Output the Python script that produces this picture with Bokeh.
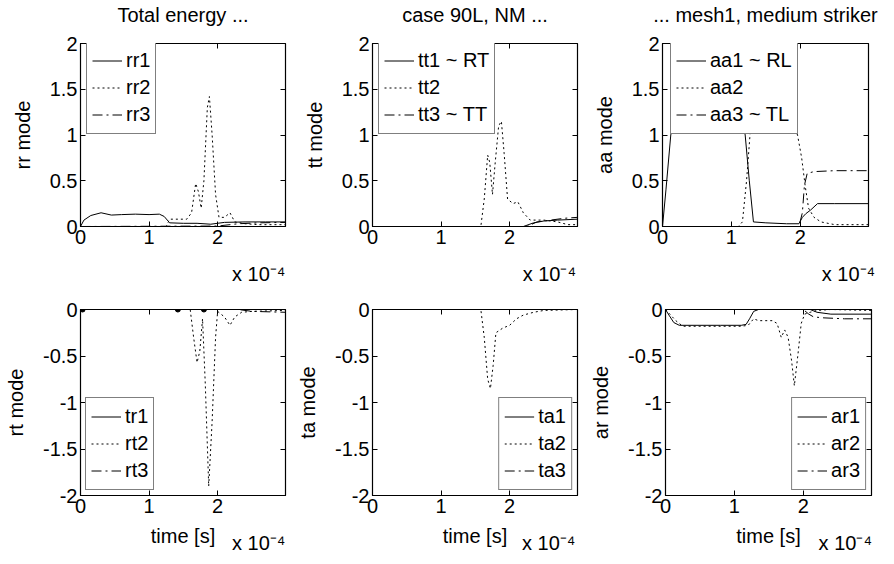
from bokeh.plotting import figure
from bokeh.layouts import column, row
from bokeh.models import (LinearAxis, Range1d, Legend, LegendItem,
                          FixedTicker, NumeralTickFormatter)
from bokeh.embed import file_html
from bokeh.resources import INLINE

# ---------------- data (time in units of 1e-4 s) ----------------
rr1_t = [0, 0.05, 0.15, 0.3, 0.45, 0.6, 0.8, 1.0, 1.15, 1.22, 1.3, 1.5, 1.7, 1.9, 2.1, 2.4, 2.7, 2.99]
rr1_y = [0, 0.07, 0.12, 0.15, 0.125, 0.13, 0.135, 0.13, 0.135, 0.11, 0.04, 0.035, 0.035, 0.025, 0.045, 0.05, 0.05, 0.05]
rr2_t = [0, 1.25, 1.3, 1.55, 1.62, 1.68, 1.72, 1.76, 1.8, 1.85, 1.88, 1.92, 1.97, 2.02, 2.1, 2.18, 2.25, 2.4, 2.6, 2.99]
rr2_y = [0, 0, 0.08, 0.08, 0.15, 0.47, 0.38, 0.2, 0.5, 1.3, 1.42, 1.0, 0.35, 0.1, 0.1, 0.15, 0.05, 0.03, 0.02, 0.02]
rr3_t = [0, 2.0, 2.3, 2.6, 2.99]
rr3_y = [0, 0.005, 0.03, 0.04, 0.045]

tt1_t = [0, 2.2, 2.35, 2.5, 2.7, 2.99]
tt1_y = [0, 0, 0.04, 0.06, 0.07, 0.08]
tt2_t = [0, 1.58, 1.63, 1.68, 1.71, 1.75, 1.79, 1.84, 1.88, 1.92, 1.97, 2.05, 2.12, 2.2, 2.3, 2.5, 2.7, 2.85, 2.99]
tt2_y = [0, 0, 0.3, 0.78, 0.7, 0.35, 0.7, 1.1, 1.15, 0.8, 0.3, 0.25, 0.27, 0.15, 0.07, 0.07, 0.05, 0.02, 0.02]
tt3_t = [0, 2.25, 2.4, 2.6, 2.8, 2.99]
tt3_y = [0, 0, 0.05, 0.07, 0.09, 0.1]

aa1_t = [0, 0.05, 0.12, 0.18, 1.15, 1.2, 1.26, 1.32, 1.5, 1.8, 1.98, 2.03, 2.08, 2.15, 2.25, 2.5, 2.99]
aa1_y = [0, 0.4, 1.0, 1.2, 1.2, 1.0, 0.5, 0.05, 0.04, 0.03, 0.03, 0.1, 0.14, 0.18, 0.25, 0.25, 0.25]
aa2_t = [0, 1.1, 1.16, 1.22, 1.28, 1.9, 1.96, 2.02, 2.07, 2.12, 2.2, 2.3, 2.5, 2.99]
aa2_y = [0, 0, 0.05, 0.5, 1.1, 1.1, 1.0, 0.75, 0.45, 0.2, 0.1, 0.05, 0.02, 0.02]
aa3_t = [0, 1.98, 2.03, 2.06, 2.1, 2.2, 2.5, 2.99]
aa3_y = [0, 0, 0.15, 0.45, 0.58, 0.6, 0.61, 0.61]

tr1_t = [0, 2.99]
tr1_y = [0, 0]
tr1_mark_t = [0.03, 1.42, 1.8]
tr1_mark_y = [0, 0, 0]
rt2_t = [0, 1.6, 1.65, 1.7, 1.74, 1.78, 1.82, 1.87, 1.92, 1.97, 2.0, 2.1, 2.18, 2.25, 2.35, 2.5, 2.99]
rt2_y = [0, 0, -0.3, -0.57, -0.45, -0.1, -0.8, -1.9, -1.2, -0.3, -0.02, -0.08, -0.17, -0.08, -0.03, -0.02, -0.01]
rt3_t = [0, 2.3, 2.5, 2.99]
rt3_y = [0, 0, -0.02, -0.03]

ta1_t = [0, 2.99]
ta1_y = [0, 0]
ta2_t = [0, 1.58, 1.63, 1.68, 1.72, 1.76, 1.8, 1.9, 2.0, 2.1, 2.2, 2.35, 2.5, 2.99]
ta2_y = [0, 0, -0.3, -0.75, -0.85, -0.6, -0.25, -0.2, -0.17, -0.1, -0.06, -0.03, -0.01, 0]
ta3_t = [0, 2.99]
ta3_y = [0, 0]

ar1_t = [0, 0.05, 0.12, 0.2, 0.5, 0.8, 1.1, 1.17, 1.22, 1.28, 1.35, 1.8, 2.1, 2.2, 2.4, 2.99]
ar1_y = [0, -0.06, -0.14, -0.17, -0.17, -0.17, -0.17, -0.16, -0.1, -0.02, 0, 0, 0, -0.03, -0.05, -0.05]
ar2_t = [0, 0.15, 0.25, 0.5, 0.8, 1.1, 1.2, 1.28, 1.35, 1.55, 1.62, 1.68, 1.73, 1.78, 1.83, 1.87, 1.92, 1.97, 2.02, 2.1, 2.2, 2.4, 2.99]
ar2_y = [0, -0.12, -0.18, -0.18, -0.18, -0.18, -0.17, -0.1, -0.12, -0.12, -0.15, -0.3, -0.22, -0.3, -0.55, -0.82, -0.5, -0.15, -0.05, -0.03, -0.01, 0, -0.01]
ar3_t = [0, 2.0, 2.08, 2.15, 2.3, 2.6, 2.99]
ar3_y = [0, 0, -0.05, -0.08, -0.09, -0.1, -0.1]

x_ticks = [0, 1, 2]
y_ticks_top = [0, 0.5, 1, 1.5, 2]
y_ticks_bottom = [-2, -1.5, -1, -0.5, 0]
titles = ["Total energy ...", "case 90L, NM ...", "... mesh1, medium striker"]
x_exponent = "x 10\u207b\u2074"
x_label = "time [s]"
# where the exponent note sits along each time axis (units of 1e-4 s)
exp_pos = [[2.6, 2.58, 2.7], [2.6, 2.57, 2.61]]

# ---------------- styling ----------------
FONT = "Liberation Sans"
FS = "20px"
DASHES = ["solid", "2 3", "10 4 2 4"]

COL_LEFT = [80, 82, 75]
COL_FRAME = [205, 205, 206]
COL_RIGHT = [5, 10, 26]
ROW_TOP = [43, 15]
ROW_FRAME = [183, 186]
ROW_BOTTOM = [68, 69]
EXP_STANDOFF = [16, -18]
TITLE_STANDOFF = 18


def style_axis(ax, ticks, labels=True):
    ax.ticker = FixedTicker(ticks=ticks)
    ax.minor_tick_line_color = None
    ax.major_tick_in = 5
    ax.major_tick_out = 0
    ax.major_tick_line_color = "black"
    ax.axis_line_color = "black"
    ax.axis_label_text_font = FONT
    ax.axis_label_text_font_size = FS
    ax.axis_label_text_font_style = "normal"
    ax.axis_label_text_color = "black"
    if labels:
        ax.formatter = NumeralTickFormatter(format="0.[0]")
        ax.major_label_text_font = FONT
        ax.major_label_text_font_size = FS
        ax.major_label_text_color = "black"
        ax.major_label_standoff = 3
        ax.axis_label_standoff = 13
    else:
        ax.major_label_text_font_size = "0px"
        ax.major_label_text_alpha = 0
        ax.major_label_standoff = 0
        ax.axis_line_color = None


def panel(ci, ri, series, labels, ylabel, yr, yticks, legend_loc, title=None, marks=None):
    p = figure(frame_width=COL_FRAME[ci], frame_height=ROW_FRAME[ri],
               min_border_left=COL_LEFT[ci], min_border_right=COL_RIGHT[ci],
               min_border_top=ROW_TOP[ri], min_border_bottom=ROW_BOTTOM[ri],
               x_range=Range1d(0, 2.99), y_range=Range1d(*yr),
               output_backend="svg", toolbar_location=None,
               background_fill_color="white", border_fill_color="white")
    p.grid.visible = False
    p.outline_line_color = "black"
    p.outline_line_width = 1.2
    xa = p.xaxis[0]
    ya = p.yaxis[0]
    style_axis(xa, x_ticks)
    style_axis(ya, yticks)
    ya.axis_label = ylabel

    ra = LinearAxis()
    style_axis(ra, yticks, labels=False)
    p.add_layout(ra, "right")
    ta = LinearAxis()
    style_axis(ta, x_ticks, labels=False)
    p.add_layout(ta, "above")

    if title:
        # panel heading, centred over the frame
        ta.axis_label = title
        ta.axis_label_standoff = TITLE_STANDOFF

    if ri == 1:
        xa.axis_label = x_label
        xa.axis_label_standoff = 9

    # exponent note "x 10^-4" as a label-only axis under the time axis
    pos = exp_pos[ri][ci]
    ea = LinearAxis(ticker=FixedTicker(ticks=[pos]),
                    major_label_overrides={pos: x_exponent},
                    major_tick_in=0, major_tick_out=0,
                    minor_tick_line_color=None, axis_line_color=None,
                    major_tick_line_color=None,
                    major_label_standoff=EXP_STANDOFF[ri],
                    major_label_text_font=FONT, major_label_text_font_size=FS,
                    major_label_text_color="black")
    p.add_layout(ea, "below")

    items = []
    for (t, y), lab, dash in zip(series, labels, DASHES):
        r = p.line(t, y, line_color="black", line_width=1, line_dash=dash)
        items.append(LegendItem(label=lab, renderers=[r]))
    if marks is not None:
        p.scatter(marks[0], marks[1], size=5, color="black")
    leg = Legend(items=items, location=legend_loc,
                 border_line_color="black", border_line_width=1.2,
                 background_fill_color="white", background_fill_alpha=1,
                 label_text_font=FONT, label_text_font_size=FS, label_text_color="black",
                 glyph_width=30, glyph_height=27, label_height=27,
                 spacing=0, padding=5, margin=5, label_standoff=4)
    p.add_layout(leg)
    return p


top_leg = (6, ROW_FRAME[0] - 91)
p1 = panel(0, 0, [(rr1_t, rr1_y), (rr2_t, rr2_y), (rr3_t, rr3_y)],
           ["rr1", "rr2", "rr3"], "rr mode", (0, 2), y_ticks_top, top_leg, title=titles[0])
p2 = panel(1, 0, [(tt1_t, tt1_y), (tt2_t, tt2_y), (tt3_t, tt3_y)],
           ["tt1 ~ RT", "tt2", "tt3 ~ TT"], "tt mode", (0, 2), y_ticks_top, top_leg, title=titles[1])
p3 = panel(2, 0, [(aa1_t, aa1_y), (aa2_t, aa2_y), (aa3_t, aa3_y)],
           ["aa1 ~ RL", "aa2", "aa3 ~ TL"], "aa mode", (0, 2), y_ticks_top, (8, ROW_FRAME[0] - 91), title=titles[2])
p4 = panel(0, 1, [(tr1_t, tr1_y), (rt2_t, rt2_y), (rt3_t, rt3_y)],
           ["tr1", "rt2", "rt3"], "rt mode", (-2, 0), y_ticks_bottom, "bottom_left",
           marks=(tr1_mark_t, tr1_mark_y))
p5 = panel(1, 1, [(ta1_t, ta1_y), (ta2_t, ta2_y), (ta3_t, ta3_y)],
           ["ta1", "ta2", "ta3"], "ta mode", (-2, 0), y_ticks_bottom, "bottom_right")
p6 = panel(2, 1, [(ar1_t, ar1_y), (ar2_t, ar2_y), (ar3_t, ar3_y)],
           ["ar1", "ar2", "ar3"], "ar mode", (-2, 0), y_ticks_bottom, "bottom_right")

layout = column(row(p1, p2, p3, spacing=0), row(p4, p5, p6, spacing=0), spacing=0)
open("out.html", "w").write(file_html(layout, INLINE))
